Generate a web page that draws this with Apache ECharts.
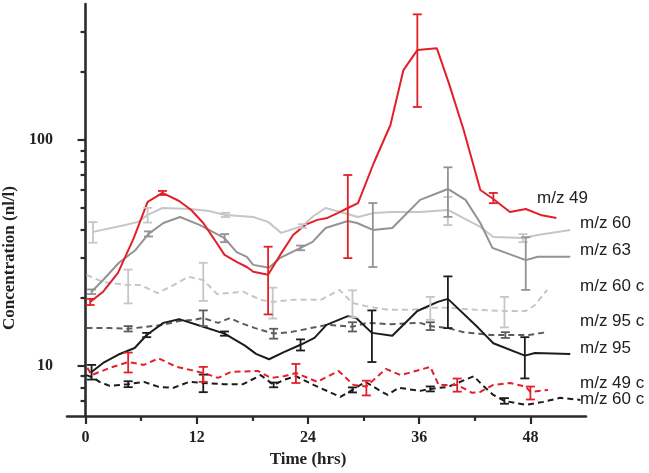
<!DOCTYPE html>
<html><head><meta charset="utf-8">
<script src="https://cdn.jsdelivr.net/npm/echarts@6/dist/echarts.min.js"></script>
<style>html,body{margin:0;padding:0;background:#fff}#c{width:649px;height:473px}</style>
</head><body><div id="c"></div>
<script>
// ---- data: [time (hrs), concentration (nl/l)] ----
const mz49 = [[0.5,19.2],[1.9,21.3],[3.5,25.8],[5.2,36.8],[6.7,53.2],[8.3,58.3],[10.1,53.7],[11.4,49.0],[12.7,42.9],[13.8,36.8],[15.0,31.0],[16.3,28.9],[17.4,27.4],[18.1,26.1],[19.7,25.3],[21.0,31.0],[22.4,38.0],[23.7,42.1],[25.0,44.3],[26.1,45.2],[27.2,47.5],[28.3,50.0],[29.4,52.6],[31.1,79.1],[32.9,116.5],[34.3,204],[35.8,250],[37.9,255],[39.2,178.6],[40.8,110.7],[42.6,60.1],[44.0,54.8],[45.8,48.0],[47.5,49.5],[49.1,46.6],[50.8,45.2]];
const mz60 = [[0.8,39.2],[3.8,41.6],[5.7,43.4],[6.7,46.6],[8.3,50.0],[11.3,49.5],[13.3,48.5],[15.1,46.6],[18.1,45.6],[19.7,43.4],[21.1,38.8],[23.4,41.6],[24.6,46.1],[25.9,50.0],[27.5,48.0],[29.4,45.6],[31.1,47.5],[32.9,48.0],[36.1,48.0],[39.1,49.0],[42.6,41.2],[44.0,37.2],[47.2,36.8],[48.8,38.0],[52.3,40.0]];
const mz63 = [[0.65,21.3],[1.9,24.0],[3.6,28.6],[5.4,32.6],[6.8,38.4],[8.4,42.9],[10.2,45.6],[12.3,42.1],[15.0,36.8],[16.3,31.9],[17.4,30.4],[18.1,28.0],[19.8,27.2],[21.0,30.1],[23.2,33.3],[24.5,35.4],[25.9,40.8],[28.3,43.8],[29.3,42.9],[31.0,40.0],[33.1,40.8],[36.1,54.3],[39.1,60.7],[41.0,54.3],[42.6,42.9],[43.9,33.3],[47.5,29.4],[48.8,30.4],[52.3,30.4]];
const mz60c = [[0.1,25.3],[1.9,23.5],[4.6,22.8],[5.9,22.8],[7.8,21.0],[9.5,22.8],[11.1,24.8],[12.7,24.0],[14.2,20.8],[17.0,21.3],[18.9,19.6],[20.2,19.2],[22.4,19.6],[25.4,19.6],[27.4,21.7],[28.8,19.0],[30.2,18.4],[32.7,17.7],[35.1,17.7],[37.2,18.1],[39.1,18.1],[42.3,17.7],[45.2,17.5],[47.5,17.5],[48.5,18.6],[49.8,21.7]];
const mz95c = [[0.1,14.7],[2.6,14.7],[4.6,14.6],[6.6,14.9],[8.4,15.2],[10.1,15.8],[11.7,16.0],[12.7,16.3],[14.3,15.5],[15.6,16.3],[16.7,15.5],[18.3,14.7],[20.3,13.9],[22.1,14.1],[24.3,14.7],[26.1,15.2],[28.8,14.9],[30.4,15.5],[32.9,15.3],[36.1,15.5],[37.2,15.0],[39.1,14.7],[40.8,14.1],[43.7,13.7],[45.3,13.7],[47.8,13.7],[49.8,14.1]];
const mz95 = [[0.65,9.4],[1.9,10.3],[3.5,11.2],[5.3,12.0],[6.6,13.7],[8.4,15.5],[10.1,16.1],[12.7,14.9],[15.0,13.9],[17.2,12.3],[18.4,11.3],[19.8,10.7],[21.4,11.5],[23.2,12.4],[24.7,13.3],[26.0,15.2],[28.3,16.6],[29.2,16.3],[30.9,14.0],[33.1,13.6],[35.8,17.5],[38.0,19.2],[39.1,19.8],[42.4,14.7],[44.0,12.6],[47.4,11.1],[48.5,11.4],[52.3,11.3]];
const mz49c = [[0.2,9.8],[0.65,9.1],[2.6,9.8],[4.6,10.4],[6.3,10.1],[7.9,10.8],[9.8,9.9],[11.3,9.6],[12.7,9.3],[14.3,8.85],[15.7,9.4],[18.6,9.5],[20.0,8.85],[21.4,9.0],[22.7,9.3],[25.0,8.5],[27.3,9.5],[28.9,8.24],[30.3,8.1],[32.4,9.7],[34.0,9.1],[37.2,9.9],[38.1,8.24],[40.1,8.24],[41.7,7.6],[42.6,7.67],[44.0,8.24],[45.8,8.4],[47.5,8.1],[48.0,7.67],[49.9,7.83]];
const mz60cb = [[0.1,9.1],[0.9,8.85],[1.5,8.5],[2.6,8.16],[4.6,8.3],[6.3,8.5],[7.9,8.07],[9.5,8.0],[11.2,8.5],[12.7,8.4],[14.9,8.3],[17.0,8.3],[18.9,9.1],[20.3,8.24],[21.4,8.67],[22.7,9.0],[24.6,8.24],[27.5,7.29],[28.8,7.83],[30.2,8.5],[32.0,7.67],[32.6,7.44],[33.8,8.0],[36.1,7.75],[37.2,7.91],[39.1,8.07],[41.9,9.0],[42.8,8.24],[44.0,7.44],[45.2,7.0],[47.5,6.72],[49.4,6.93],[51.2,7.22],[53.4,7.07]];

// ---- error bars: [time, mean, sd] ----
const err49 = [[0.5,19.2,0.6],[8.3,58.3,1.2],[19.7,25.3,8.4],[28.3,50,20],[35.8,250,110],[44.0,55.4,2.9]];
const err60 = [[0.8,39.2,4.1],[6.7,46.6,3.5],[15.1,46.6,1.0],[23.4,41.6,0.8],[39.1,49.0,7],[47.2,36.8,1.5]];
const err63 = [[0.65,21.3,0.5],[6.8,38.4,1.0],[15.0,36.8,1.5],[23.2,33.3,0.8],[31.0,40.0,12.6],[39.1,60.7,15],[47.5,29.4,7.7]];
const err60c = [[4.6,22.8,3.9],[12.7,24.0,4.6],[20.2,19.2,3],[28.8,19.0,2.6],[37.2,18.1,2.1],[45.2,17.5,2.7]];
const err95c = [[4.6,14.6,0.4],[12.7,16.3,1.3],[20.3,13.9,0.7],[28.8,14.9,0.7],[37.2,15.0,0.6],[45.3,13.7,0.4]];
const err95 = [[0.65,9.4,0.7],[6.6,13.7,0.3],[15.0,13.9,0.3],[23.2,12.4,0.7],[30.9,14.0,3.6],[39.1,19.8,5.1],[47.4,11.1,2.3]];
const err49c = [[4.6,10.4,1.05],[12.7,9.2,0.7],[22.7,9.3,0.9],[30.3,8.0,0.6],[40.1,8.24,0.55],[48.0,7.6,0.5]];
const err60cb = [[4.6,8.3,0.25],[12.7,8.4,0.75],[20.3,8.24,0.2],[28.8,7.83,0.2],[37.2,7.91,0.2],[45.2,7.0,0.2]];

const xMajor = [0,12,24,36,48];
const xMinor = [6,18,30,42];
const yMajor = [10,100];
const yMinor = [7,8,9,20,30,40,50,60,70,80,90,200,300];

const labels = ['m/z 49','m/z 60','m/z 63','m/z 60 c','m/z 95 c','m/z 95','m/z 49 c','m/z 60 c'];
const labelPos = [[537,198],[580,223],[580,250],[580,286],[580,321],[580,348],[580,383],[580,399]];

const RED='#e2202a', LG='#c6c6c6', MG='#939393', DG='#5c5c5c', BK='#1c1c1c';
const AX='#2b2b2b';
const serif='"Liberation Serif","Times New Roman",serif';

function lineSeries(name, data, color, dashed){
  return {name, type:'line', data, showSymbol:false, symbol:'none', silent:true,
    lineStyle:{color, width:2, type: dashed?[6,4]:'solid'}, z:2};
}
function errSeries(data, color){
  return {type:'custom', data, silent:true, z:3,
    encode:{x:0,y:1},
    renderItem:function(params, api){
      const t=api.value(0), m=api.value(1), s=api.value(2);
      const p1=api.coord([t,m+s]), p2=api.coord([t,Math.max(m-s,0.01)]);
      const hw=4.5;
      const st={stroke:color, lineWidth:1.8};
      return {type:'group', children:[
        {type:'line', shape:{x1:p1[0],y1:p1[1],x2:p2[0],y2:p2[1]}, style:st},
        {type:'line', shape:{x1:p1[0]-hw,y1:p1[1],x2:p1[0]+hw,y2:p1[1]}, style:st},
        {type:'line', shape:{x1:p2[0]-hw,y1:p2[1],x2:p2[0]+hw,y2:p2[1]}, style:st}
      ]};
    }};
}

const chart = echarts.init(document.getElementById('c'), null, {renderer:'canvas'});
const option = {
  animation:false,
  backgroundColor:'#fff',
  grid:{left:67, top:4, width:519, height:412, containLabel:false},
  xAxis:[
    {type:'value', min:-2, max:54, position:'bottom',
     axisLine:{show:true, lineStyle:{color:AX, width:2.6}},
     axisTick:{show:true, customValues:xMajor, length:8, lineStyle:{color:AX, width:2.2}},
     axisLabel:{show:true, customValues:xMajor, margin:14, color:'#222', fontFamily:serif, fontWeight:'bold', fontSize:16},
     splitLine:{show:false}},
    {type:'value', min:-2, max:54, position:'bottom',
     axisLine:{show:false},
     axisTick:{show:true, customValues:xMinor, length:5, lineStyle:{color:AX, width:2.2}},
     axisLabel:{show:false},
     splitLine:{show:false}}
  ],
  yAxis:[
    {type:'log', logBase:10, min:6, max:400, position:'left',
     axisLine:{show:true, lineStyle:{color:AX, width:2.6}},
     axisTick:{show:true, customValues:yMajor, length:8, lineStyle:{color:AX, width:2.2}},
     axisLabel:{show:true, customValues:yMajor, margin:14, color:'#222', fontFamily:serif, fontWeight:'bold', fontSize:16},
     splitLine:{show:false}},
    {type:'log', logBase:10, min:6, max:400, position:'left',
     axisLine:{show:false},
     axisTick:{show:true, customValues:yMinor, length:5, lineStyle:{color:AX, width:2.2}},
     axisLabel:{show:false},
     splitLine:{show:false}}
  ],
  series:[
    lineSeries('m/z 60', mz60, LG, false),
    lineSeries('m/z 60 c', mz60c, LG, true),
    lineSeries('m/z 63', mz63, MG, false),
    lineSeries('m/z 95 c', mz95c, DG, true),
    lineSeries('m/z 95', mz95, BK, false),
    lineSeries('m/z 60 c (2)', mz60cb, BK, true),
    lineSeries('m/z 49 c', mz49c, RED, true),
    lineSeries('m/z 49', mz49, RED, false),
    errSeries(err60, LG), errSeries(err60c, LG), errSeries(err63, MG),
    errSeries(err95c, DG), errSeries(err95, BK), errSeries(err60cb, BK),
    errSeries(err49c, RED), errSeries(err49, RED)
  ],
  graphic:[
    {type:'text', x:10, y:258, rotation:Math.PI/2, silent:true,
     style:{text:'Concentration (nl/l)', font:'bold 17px '+serif, fill:'#222', align:'center', verticalAlign:'middle'}},
    {type:'text', x:308, y:460, silent:true,
     style:{text:'Time (hrs)', font:'bold 17px '+serif, fill:'#222', align:'center', verticalAlign:'middle'}}
  ].concat(labels.map((t,i)=>({type:'text', x:labelPos[i][0], y:labelPos[i][1], silent:true,
     style:{text:t, font:'17px "Liberation Sans", Arial, sans-serif', fill:'#222', align:'left', verticalAlign:'middle'}})))
};
chart.setOption(option);
</script></body></html>
